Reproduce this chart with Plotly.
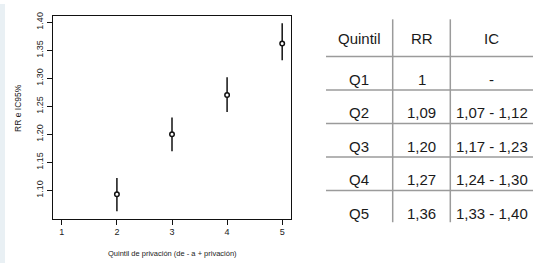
import plotly.graph_objects as go

# ---------------- data ----------------
x_ticks = [1, 2, 3, 4, 5]
plot_quintil = [2, 3, 4, 5]
rr_plot = [1.093, 1.200, 1.270, 1.362]
ci_lo_plot = [1.063, 1.170, 1.240, 1.332]
ci_hi_plot = [1.122, 1.230, 1.302, 1.398]
y_ticks = [1.10, 1.15, 1.20, 1.25, 1.30, 1.35, 1.40]
y_tick_labels = ["1.10", "1.15", "1.20", "1.25", "1.30", "1.35", "1.40"]

table_header = ["Quintil", "RR", "IC"]
table_quintil = ["Q1", "Q2", "Q3", "Q4", "Q5"]
table_rr = ["1", "1,09", "1,20", "1,27", "1,36"]
table_ic = ["-", "1,07 - 1,12", "1,17 - 1,23", "1,24 - 1,30", "1,33 - 1,40"]

x_title = "Quintil de privación (de - a + privación)"
y_title = "RR e IC95%"

# ---------------- layout constants ----------------
W, H = 533, 263
box_l, box_r, box_t, box_b = 53, 291, 12, 218
tab_l = 326
col_widths = [66.7, 57.6, 82.7]
row_px = 34.0
first_line_px = 53.3
font_axis = "Liberation Sans, Arial, sans-serif"
font_tab = "Liberation Sans, Arial, sans-serif"

# R-like axis ranges (4% expansion)
xmin, xmax = min(x_ticks), max(x_ticks)
xpad = 0.04 * (xmax - xmin)
ymin, ymax = min(ci_lo_plot), max(ci_hi_plot)
ypad = 0.04 * (ymax - ymin)

fig = go.Figure()

# error bars
fig.add_trace(go.Scatter(
    x=plot_quintil, y=rr_plot, mode="markers",
    marker=dict(size=1, color="rgba(0,0,0,0)"),
    error_y=dict(type="data", symmetric=False,
                 array=[h - r for h, r in zip(ci_hi_plot, rr_plot)],
                 arrayminus=[r - l for l, r in zip(ci_lo_plot, rr_plot)],
                 width=0, thickness=1.5, color="#111111"),
    hoverinfo="skip", showlegend=False))
# points
fig.add_trace(go.Scatter(
    x=plot_quintil, y=rr_plot, mode="markers",
    marker=dict(symbol="circle", size=4.5, color="white",
                line=dict(color="#111111", width=1.5)),
    showlegend=False))

# ---------------- table ----------------
col_edges = [0]
for w in col_widths:
    col_edges.append(col_edges[-1] + w)
col_centers = [(col_edges[i] + col_edges[i + 1]) / 2 for i in range(len(col_widths))]

n_rows = len(table_quintil)
# row axis: horizontal rule k sits at y=k (k=1..n_rows)
y2_top = 1 - first_line_px / row_px
y2_bot = 1 + (H - first_line_px) / row_px

annotations = []
columns = [table_quintil, table_rr, table_ic]
for ci, head in enumerate(table_header):
    annotations.append(dict(x=col_centers[ci], y=0.45, xref="x2", yref="y2",
                            xanchor="center", yanchor="middle",
                            text=head, showarrow=False,
                            font=dict(family=font_tab, size=15, color="#1a1a1a")))
    for ri, val in enumerate(columns[ci]):
        annotations.append(dict(x=col_centers[ci], y=ri + 1 + 0.68, xref="x2", yref="y2",
                                xanchor="center", yanchor="middle",
                                text=val, showarrow=False,
                                font=dict(family=font_tab, size=15, color="#1a1a1a")))

shapes = []
for k in range(1, n_rows + 1):
    shapes.append(dict(type="line", xref="x2", yref="y2", x0=0, x1=col_edges[-1],
                       y0=k, y1=k, line=dict(color="#9b9b9b", width=1.5)))
for e in col_edges[1:-1]:
    shapes.append(dict(type="line", xref="x2", yref="y2", x0=e, x1=e,
                       y0=-0.11, y1=n_rows + 0.95, line=dict(color="#9b9b9b", width=1.5)))

# left light strip
shapes.append(dict(type="rect", xref="paper", yref="paper", x0=0, x1=5 / W, y0=0, y1=1,
                   fillcolor="#e9f0f4", line=dict(width=0), layer="below"))

# axis titles
annotations.append(dict(x=(box_l + box_r) / 2 / W, y=1 - 253 / H, xref="paper", yref="paper",
                        xanchor="center", yanchor="middle",
                        text=x_title, showarrow=False,
                        font=dict(family=font_axis, size=7.5, color="#222222")))
annotations.append(dict(x=18.5 / W, y=1 - 106 / H, xref="paper", yref="paper",
                        xanchor="center", yanchor="middle",
                        text=y_title, showarrow=False, textangle=-90,
                        font=dict(family=font_axis, size=8.5, color="#222222")))

fig.update_layout(
    width=W, height=H,
    margin=dict(l=0, r=0, t=0, b=0),
    paper_bgcolor="white", plot_bgcolor="white",
    showlegend=False,
    xaxis=dict(domain=[box_l / W, box_r / W], range=[xmin - xpad, xmax + xpad],
               tickmode="array", tickvals=x_ticks, ticktext=[str(v) for v in x_ticks],
               ticks="outside", ticklen=5, tickwidth=1, tickcolor="#111111",
               showline=True, mirror=True, linecolor="#111111", linewidth=1,
               showgrid=False, zeroline=False,
               tickfont=dict(family=font_axis, size=9, color="#222222")),
    yaxis=dict(domain=[1 - box_b / H, 1 - box_t / H], range=[ymin - ypad, ymax + ypad],
               tickmode="array", tickvals=y_ticks, ticktext=y_tick_labels, tickangle=-90,
               ticks="outside", ticklen=5, tickwidth=1, tickcolor="#111111",
               showline=True, mirror=True, linecolor="#111111", linewidth=1,
               showgrid=False, zeroline=False,
               tickfont=dict(family=font_axis, size=9, color="#222222")),
    xaxis2=dict(domain=[tab_l / W, 1], range=[0, (W - tab_l)], visible=False, fixedrange=True),
    yaxis2=dict(domain=[0, 1], range=[y2_bot, y2_top], visible=False, fixedrange=True),
    annotations=annotations,
    shapes=shapes,
)

fig.write_html("out.html", config={"displayModeBar": False})

# remove default page margin so the figure sits at the window's top-left corner
with open("out.html", "r", encoding="utf-8") as f:
    html = f.read()
html = html.replace("<head>", "<head><style>html,body{margin:0;padding:0;overflow:hidden;}</style>", 1)
with open("out.html", "w", encoding="utf-8") as f:
    f.write(html)
